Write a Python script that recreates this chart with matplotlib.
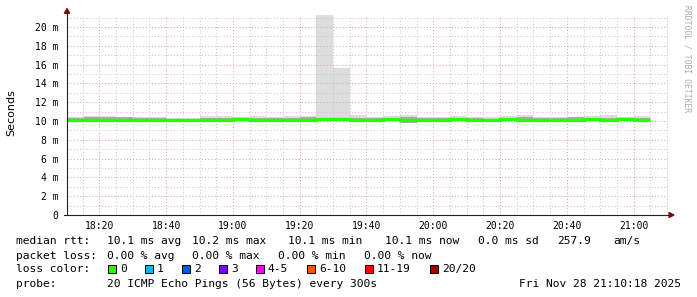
"""SmokePing style latency chart: median rtt with smoke bands, 3 hours."""

import matplotlib
matplotlib.use("Agg")
import matplotlib.pyplot as plt
import matplotlib.dates as mdates
from matplotlib.patches import Polygon, Rectangle
from matplotlib.ticker import FuncFormatter, MultipleLocator
import numpy as np
import pandas as pd

# 5 minute bins, 18:10 .. 21:05 (start of each bin)
bin_start = pd.date_range("2025-11-28 18:10", periods=35, freq="5min")
view_start = pd.Timestamp("2025-11-28 18:10:18")
view_end = pd.Timestamp("2025-11-28 21:10:18")

# values in ms
median = [10.15, 10.15, 10.15, 10.15, 10.15, 10.15, 10.10, 10.10, 10.15, 10.12,
          10.18, 10.15, 10.15, 10.15, 10.15, 10.20, 10.18, 10.15, 10.12, 10.18,
          10.10, 10.15, 10.15, 10.20, 10.15, 10.12, 10.18, 10.15, 10.12, 10.15,
          10.15, 10.20, 10.15, 10.20, 10.12]
smoke_max = [10.46, 10.53, 10.53, 10.46, 10.40, 10.46, 10.30, 10.30, 10.53, 10.50,
             10.40, 10.50, 10.40, 10.50, 10.53, 21.30, 15.60, 10.60, 10.40, 10.53,
             10.67, 10.46, 10.40, 10.50, 10.46, 10.40, 10.50, 10.60, 10.46, 10.46,
             10.46, 10.53, 10.60, 10.46, 10.53]
smoke_mid = [10.30, 10.42, 10.42, 10.42, 10.30, 10.30, 10.22, 10.22, 10.30, 10.32,
             10.28, 10.30, 10.28, 10.30, 10.39, 10.36, 10.32, 10.30, 10.28, 10.30,
             10.40, 10.30, 10.28, 10.32, 10.28, 10.25, 10.30, 10.39, 10.35, 10.30,
             10.39, 10.30, 10.28, 10.30, 10.30]
smoke_min = [10.00, 10.00, 10.00, 10.00, 10.00, 10.00, 9.98, 9.98, 10.00, 10.00,
             10.00, 10.00, 10.00, 10.00, 10.00, 10.00, 10.00, 10.00, 10.00, 10.00,
             9.84, 10.00, 10.00, 10.00, 10.00, 9.98, 10.00, 10.00, 9.98, 10.00,
             10.00, 10.00, 10.00, 9.95, 10.00]

loss_labels = ["0", "1", "2", "3", "4-5", "6-10", "11-19", "20/20"]
loss_colors = ["#26ff00", "#00b8ff", "#0059ff", "#7e00ff", "#ff00ff", "#ff5500", "#ff0000", "#a10000"]

rtt_stats = [("10.1 ms avg", 107), ("10.2 ms max", 192), ("10.1 ms min", 288),
             ("10.1 ms now", 385), ("0.0 ms sd", 478), ("257.9", 557), ("am/s", 613)]
loss_stats = [("0.00 % avg", 107), ("0.00 % max", 192), ("0.00 % min", 278), ("0.00 % now", 364)]

W, H = 697, 297
MONO = "DejaVu Sans Mono"


def fx(px):
    return px / W


def fy(py):
    return 1 - py / H


fig = plt.figure(figsize=(W / 100, H / 100), dpi=100, facecolor="white")
ax = fig.add_axes([fx(67), fy(215), (668 - 67) / W, (215 - 15) / H])

edges = mdates.date2num(list(bin_start) + [bin_start[-1] + pd.Timedelta("5min")])
ax.stairs(smoke_max, edges, baseline=smoke_min, fill=True, color="#dddddd", lw=0, zorder=1)
ax.stairs(smoke_mid, edges, baseline=smoke_min, fill=True, color="#aaaaaa", lw=0, zorder=2)
ax.stairs(median, edges, baseline=None, color="#26ff00", lw=2.4, zorder=4)

ax.set_xlim(mdates.date2num(view_start), mdates.date2num(view_end))
ax.set_ylim(0, 200 / 9.4)

ax.xaxis.set_major_locator(mdates.MinuteLocator(byminute=[0, 20, 40]))
ax.xaxis.set_minor_locator(mdates.MinuteLocator(byminute=range(0, 60, 5)))
ax.xaxis.set_major_formatter(mdates.DateFormatter("%H:%M"))
ax.yaxis.set_major_locator(MultipleLocator(2))
ax.yaxis.set_minor_locator(MultipleLocator(1))
ax.yaxis.set_major_formatter(FuncFormatter(lambda v, p: "0" if v == 0 else f"{v:.0f} m"))

ax.grid(which="minor", color="#c8c8c8", lw=0.75, ls=(0, (1, 2)), zorder=5)
ax.grid(which="major", color="#e8a0a0", lw=0.75, ls=(0, (1, 2)), zorder=6)
ax.set_axisbelow(False)

ax.tick_params(which="both", length=0)
ax.tick_params(axis="x", pad=4, labelsize=7)
ax.tick_params(axis="y", pad=6, labelsize=7)
for lab in ax.get_xticklabels() + ax.get_yticklabels():
    lab.set_fontfamily(MONO)
for s in ax.spines.values():
    s.set_visible(False)

# axes with arrows
fig.add_artist(plt.Line2D([fx(67), fx(67)], [fy(215), fy(11)], color="#222222", lw=0.8))
fig.add_artist(plt.Line2D([fx(64), fx(671)], [fy(215), fy(215)], color="#222222", lw=0.8))
fig.add_artist(Polygon([[fx(64.3), fy(13.3)], [fx(69.7), fy(13.3)], [fx(67), fy(8.5)]],
                       closed=True, color="#7f1010", transform=fig.transFigure))
fig.add_artist(Polygon([[fx(669), fy(212.5)], [fx(669), fy(217.5)], [fx(674), fy(215)]],
                       closed=True, color="#7f1010", transform=fig.transFigure))

fig.text(fx(11), fy(113), "Seconds", rotation=90, ha="center", va="center",
         fontsize=8, family="DejaVu Sans", color="black")
fig.text(fx(687), fy(5), "RRDTOOL / TOBI OETIKER", rotation=-90, ha="center", va="top",
         fontsize=5.8, family=MONO, color="#aaaaaa")

txt = dict(fontsize=8.1, family=MONO, color="black", va="center", ha="left")
fig.text(fx(16), fy(241), "median rtt:", **txt)
for s, x in rtt_stats:
    fig.text(fx(x), fy(241), s, **txt)
fig.text(fx(16), fy(256), "packet loss:", **txt)
for s, x in loss_stats:
    fig.text(fx(x), fy(256), s, **txt)
fig.text(fx(16), fy(269), "loss color:", **txt)
x = 108
for lab, col in zip(loss_labels, loss_colors):
    fig.add_artist(Rectangle((fx(x), fy(273)), 8 / W, 8 / H, facecolor=col,
                             edgecolor="black", lw=0.7, transform=fig.transFigure))
    fig.text(fx(x + 12), fy(269), lab, **txt)
    x += 30 + 7 * len(lab)
fig.text(fx(16), fy(284), "probe:", **txt)
fig.text(fx(107), fy(284), "20 ICMP Echo Pings (56 Bytes) every 300s", **txt)
fig.text(fx(681), fy(284), "Fri Nov 28 21:10:18 2025", **{**txt, "ha": "right"})

fig.savefig("out.png", dpi=100)
